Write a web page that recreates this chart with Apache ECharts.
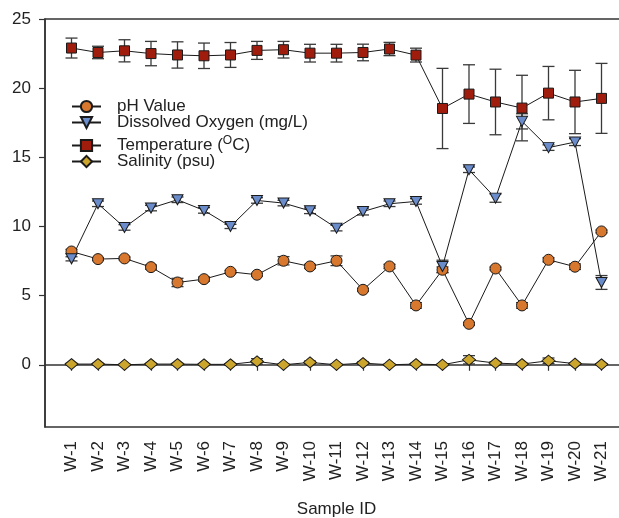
<!DOCTYPE html>
<html>
<head>
<meta charset="utf-8">
<script src="https://cdn.jsdelivr.net/npm/echarts@6/dist/echarts.min.js"></script>
<style>
html,body{margin:0;padding:0;background:#fff;}
#chart{width:619px;height:518px;}
</style>
</head>
<body>
<div id="chart"></div>
<script>
const categories = ['W-1','W-2','W-3','W-4','W-5','W-6','W-7','W-8','W-9','W-10','W-11','W-12','W-13','W-14','W-15','W-16','W-17','W-18','W-19','W-20','W-21'];
const yTicks = [0, 5, 10, 15, 20, 25];

const phValue = [8.19, 7.64, 7.69, 7.06, 5.95, 6.19, 6.72, 6.51, 7.52, 7.11, 7.52, 5.42, 7.11, 4.29, 6.87, 2.96, 6.96, 4.29, 7.59, 7.09, 9.64];
const phError = [0.15, 0.1, 0.1, 0.15, 0.3, 0.15, 0.1, 0.1, 0.3, 0.15, 0.35, 0.1, 0.15, 0.2, 0.2, 0.1, 0.1, 0.2, 0.15, 0.2, 0.1];

const doValue = [7.66, 11.64, 9.93, 11.33, 11.93, 11.16, 10.0, 11.88, 11.69, 11.13, 9.88, 11.08, 11.64, 11.81, 7.11, 14.1, 12.05, 17.6, 15.7, 16.1, 5.95];
const doError = [0.15, 0.2, 0.2, 0.2, 0.2, 0.2, 0.15, 0.2, 0.2, 0.2, 0.2, 0.25, 0.2, 0.2, 0.45, 0.2, 0.3, 0.55, 0.2, 0.25, 0.5];

const tempValue = [22.9, 22.58, 22.7, 22.5, 22.4, 22.34, 22.4, 22.73, 22.78, 22.53, 22.53, 22.58, 22.83, 22.39, 18.53, 19.57, 19.0, 18.56, 19.64, 19.0, 19.26];
const tempError = [0.72, 0.45, 0.8, 0.88, 0.95, 0.92, 0.9, 0.65, 0.6, 0.64, 0.64, 0.6, 0.48, 0.5, 2.9, 2.12, 2.37, 2.37, 1.93, 2.29, 2.53];

const salValue = [0.05, 0.05, 0.0, 0.05, 0.05, 0.03, 0.03, 0.24, 0.0, 0.17, 0.0, 0.12, 0.0, 0.05, 0.0, 0.36, 0.12, 0.05, 0.29, 0.08, 0.03];
const salError = [0.05, 0.05, 0.05, 0.05, 0.05, 0.05, 0.05, 0.2, 0.05, 0.1, 0.05, 0.08, 0.05, 0.05, 0.05, 0.3, 0.1, 0.05, 0.2, 0.05, 0.05];

const FONT = 'Liberation Sans, Arial, sans-serif';
const positions = categories.map((c, i) => i + 1);

function pts(vals) { return vals.map((v, i) => [i + 1, v]); }
function errs(vals, e) { return vals.map((v, i) => [i + 1, v - e[i], v + e[i]]); }

function errRender(params, api) {
  const x = api.value(0), lo = api.value(1), hi = api.value(2);
  const p1 = api.coord([x, hi]), p2 = api.coord([x, lo]);
  const hw = 6;
  const st = { stroke: '#3a3a3a', lineWidth: 1.3 };
  return {
    type: 'group',
    children: [
      { type: 'line', shape: { x1: p1[0], y1: p1[1], x2: p2[0], y2: p2[1] }, style: st },
      { type: 'line', shape: { x1: p1[0] - hw, y1: p1[1], x2: p1[0] + hw, y2: p1[1] }, style: st },
      { type: 'line', shape: { x1: p2[0] - hw, y1: p2[1], x2: p2[0] + hw, y2: p2[1] }, style: st }
    ]
  };
}

function errSeries(vals, e) {
  return {
    type: 'custom', renderItem: errRender, data: errs(vals, e),
    encode: { x: 0, y: [1, 2] }, z: 1, silent: true
  };
}

function lineSeries(name, vals, symbol, size, color, rotate) {
  return {
    name: name, type: 'line', data: pts(vals), symbol: symbol, symbolSize: size,
    symbolRotate: rotate || 0, showAllSymbol: true, z: 3,
    lineStyle: { color: '#1a1a1a', width: 1 },
    itemStyle: { color: color, borderColor: '#1a1a1a', borderWidth: 1 },
    emphasis: { disabled: true }
  };
}

const tempName = 'Temperature (\u00B0C)';

const chart = echarts.init(document.getElementById('chart'), null, { renderer: 'canvas' });
chart.setOption({
  backgroundColor: '#fff',
  animation: false,
  textStyle: { fontFamily: FONT },
  grid: {
    left: 45, top: 19, width: 583, bottom: 91, outerBoundsMode: 'none', containLabel: false,
    show: true, borderColor: '#333', borderWidth: 1.5, backgroundColor: 'transparent'
  },
  legend: [
    {
      data: ['pH Value', 'Dissolved Oxygen (mg/L)'],
      orient: 'vertical', left: 66, top: 93, itemWidth: 29, itemHeight: 14, itemGap: -1,
      textStyle: { fontFamily: FONT, fontSize: 17, color: '#222', lineHeight: 14, padding: [0, 0, 0, 11] },
      selectedMode: false
    },
    {
      data: [tempName, 'Salinity (psu)'],
      orient: 'vertical', left: 66, top: 130, itemWidth: 29, itemHeight: 14, itemGap: -3,
      textStyle: {
        fontFamily: FONT, fontSize: 17, color: '#222', lineHeight: 14, padding: [0, 0, 0, 11],
        rich: { sup: { fontFamily: FONT, fontSize: 12, color: '#222', lineHeight: 10, padding: [0, 0, 9, 0] } }
      },
      formatter: function (name) { return name === tempName ? 'Temperature ({sup|O}C)' : name; },
      selectedMode: false
    }
  ],
  xAxis: {
    type: 'value', min: 0, max: 22,
    name: 'Sample ID', nameLocation: 'middle', nameGap: 74,
    nameTextStyle: { fontFamily: FONT, fontSize: 17, color: '#222' },
    axisLine: { show: true, lineStyle: { color: '#333', width: 1.5 } },
    axisTick: { show: true, length: 6, customValues: positions, lineStyle: { color: '#333', width: 1.2 } },
    axisLabel: {
      customValues: positions, rotate: 90, margin: 14, fontSize: 17, color: '#222', fontFamily: FONT,
      formatter: function (v) { return categories[Math.round(v) - 1] || ''; }
    },
    splitLine: { show: false }
  },
  yAxis: {
    type: 'value', min: -4.5, max: 25,
    axisLine: { show: true, lineStyle: { color: '#333', width: 1.5 } },
    axisTick: { show: true, length: 6, customValues: yTicks, lineStyle: { color: '#333', width: 1.2 } },
    axisLabel: { customValues: yTicks, margin: 14, fontSize: 17, color: '#222', fontFamily: FONT },
    splitLine: { show: false }
  },
  series: [
    errSeries(tempValue, tempError),
    errSeries(doValue, doError),
    errSeries(phValue, phError),
    errSeries(salValue, salError),
    lineSeries('pH Value', phValue, 'circle', 11, '#D8782E'),
    lineSeries('Dissolved Oxygen (mg/L)', doValue, 'triangle', [11, 10], '#6A8CCB', 180),
    lineSeries(tempName, tempValue, 'rect', 10, '#A01D0E'),
    lineSeries('Salinity (psu)', salValue, 'diamond', [13, 11], '#CBA52C')
  ]
});
</script>
</body>
</html>
